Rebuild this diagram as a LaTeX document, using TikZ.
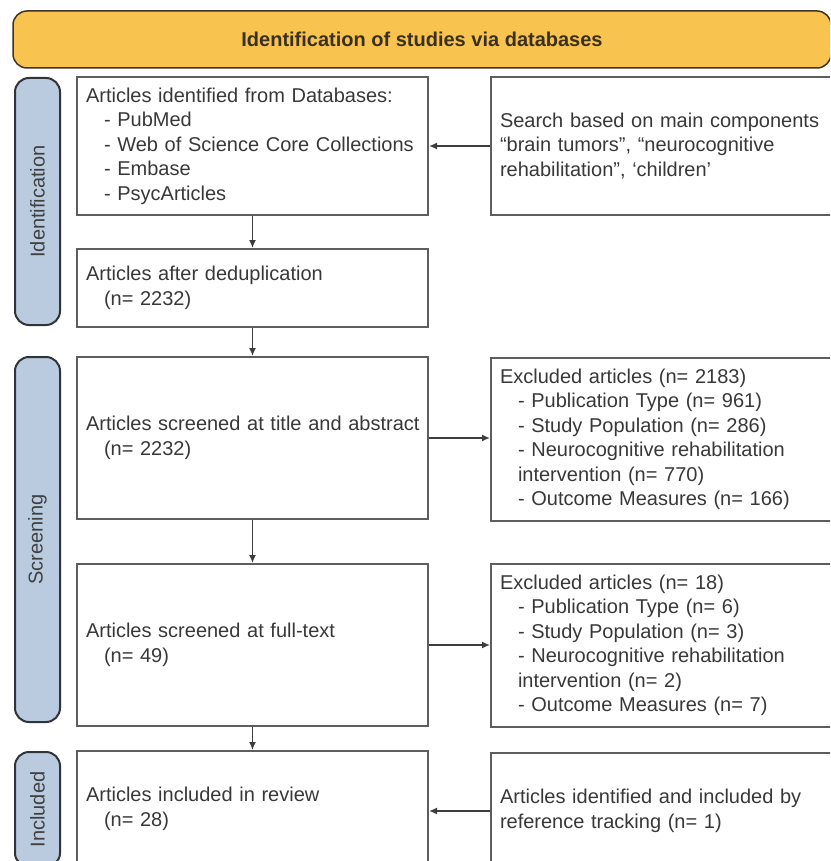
\documentclass[tikz,border=0pt]{standalone}
\usepackage{fontspec}
\setmainfont{Liberation Sans}
\usetikzlibrary{arrows.meta}

\definecolor{headfill}{HTML}{F8C34E}
\definecolor{headdraw}{HTML}{3E3422}
\definecolor{headtext}{HTML}{3A3020}
\definecolor{tabfill}{HTML}{BACBE0}
\definecolor{tabdraw}{HTML}{303338}
\definecolor{tabtext}{HTML}{404040}
\definecolor{boxdraw}{HTML}{5E5E5E}
\definecolor{boxtext}{HTML}{383838}
\definecolor{arrowgray}{HTML}{3D3D3D}

\newcommand{\indnt}{\hspace*{18pt}}

\begin{document}
\begin{tikzpicture}[x=1pt,y=-1pt]

      \useasboundingbox (0,0) rectangle (830,861);
      \clip (0,0) rectangle (830,861);

      \node[draw=headdraw,fill=headfill,line width=1.5pt,rounded corners=14pt,
            minimum width=818pt,minimum height=57pt,text=headtext,
            font=\bfseries\fontsize{20}{24}\selectfont] (head) at (422,39.5)
            {Identification of studies via databases};

      \begin{scope}[every node/.style={draw=tabdraw,fill=tabfill,line width=2pt,
                    rounded corners=14pt,minimum height=45pt,rotate=90,
                    text=tabtext,font=\fontsize{20}{24}\selectfont}]
        \node[minimum width=247pt] (tabid)  at (37.5,201.5) {Identification};
        \node[minimum width=365pt] (tabscr) at (37.5,539.5) {Screening};
        \node[minimum width=115pt] (tabinc) at (37.5,809.5) {Included};
      \end{scope}

      \begin{scope}[every node/.style={draw=boxdraw,line width=2pt,text=boxtext,
                    inner xsep=9pt,text width=333pt,align=left,
                    font=\fontsize{20}{24.5}\selectfont}]
        \node[minimum height=138pt] (db) at (252.5,146)
          {Articles identified from Databases:\\\indnt- PubMed\\\indnt- Web of Science Core Collections\\\indnt- Embase\\\indnt- PsycArticles};
        \node[minimum height=138pt] (search) at (666.5,146)
          {Search based on main components\\``brain tumors'', ``neurocognitive\\rehabilitation'', `children'};
        \node[minimum height=78pt] (dedup) at (252.5,288)
          {Articles after deduplication\\\indnt(n= 2232)};
        \node[minimum height=162pt] (ta) at (252.5,438)
          {\mbox{Articles screened at title and abstract}\\\indnt(n= 2232)};
        \node[minimum height=163pt] (excl1) at (666.5,439.5)
          {Excluded articles (n= 2183)\\\indnt- Publication Type (n= 961)\\\indnt- Study Population (n= 286)\\\indnt- Neurocognitive rehabilitation\\\indnt intervention (n= 770)\\\indnt- Outcome Measures (n= 166)};
        \node[minimum height=162pt] (ft) at (252.5,645)
          {Articles screened at full-text\\\indnt(n= 49)};
        \node[minimum height=163pt] (excl2) at (666.5,645.5)
          {Excluded articles (n= 18)\\\indnt- Publication Type (n= 6)\\\indnt- Study Population (n= 3)\\\indnt- Neurocognitive rehabilitation\\\indnt intervention (n= 2)\\\indnt- Outcome Measures (n= 7)};
        \node[minimum height=116pt] (incl) at (252.5,809)
          {Articles included in review\\\indnt(n= 28)};
        \node[minimum height=116pt] (refs) at (666.5,811)
          {Articles identified and included by\\reference tracking (n= 1)};
      \end{scope}

      \begin{scope}[every edge/.style={draw=arrowgray,line width=1.5pt,
                    -{Latex[length=8pt,width=7pt]}}]
        \path (search) edge (db);
        \path (db)     edge (dedup);
        \path (dedup)  edge (ta);
        \path (ta.east) edge (ta.east -| excl1.west);
        \path (ta)     edge (ft);
        \path (ft.east) edge (ft.east -| excl2.west);
        \path (ft)     edge (incl);
        \path (refs.west) edge (refs.west -| incl.east);
      \end{scope}

\end{tikzpicture}
\end{document}
